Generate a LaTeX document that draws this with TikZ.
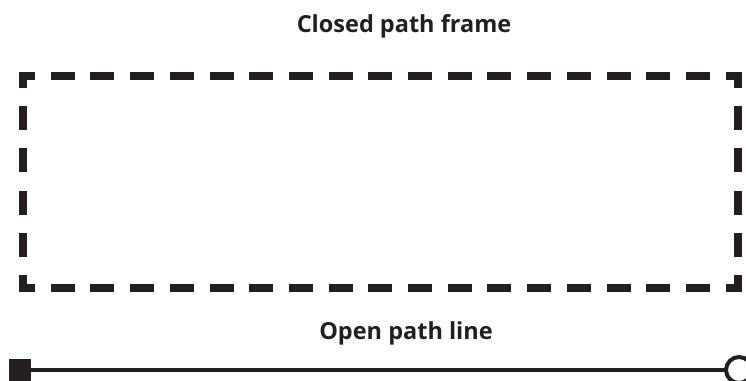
\documentclass[tikz,border=0pt]{standalone}
\usepackage{fontspec}
\setmainfont{Open Sans}
\definecolor{ink}{HTML}{231F20}
\tikzset{
  side/.style={line width=8pt, draw=ink, line cap=rect,
    dash pattern=on 16pt off #1, dash phase=8pt},
  title/.style={font=\fontsize{23.5}{27}\selectfont\bfseries, text=ink, inner sep=0pt, anchor=base},
  endsquare/.style={fill=ink, minimum size=22pt, inner sep=0pt, outer sep=0pt},
  endcircle/.style={draw=ink, fill=white, line width=4pt, circle, minimum size=26pt, inner sep=0pt, outer sep=0pt},
}
\begin{document}
\begin{tikzpicture}[x=1pt,y=-1pt]
  \useasboundingbox (0,0) rectangle (746,380);
  % frame corners
  \coordinate (tl) at (23,76);
  \coordinate (tr) at (737.5,76);
  \coordinate (br) at (737.5,288);
  \coordinate (bl) at (23,288);
  % each side dashed separately so every corner gets a full L
  \draw[side=23.7pt] (tl) -- (tr);
  \draw[side=23.7pt] (bl) -- (br);
  \draw[side=26.2pt] (tl) -- (bl);
  \draw[side=26.2pt] (tr) -- (br);
  \node[title] (t1) at (404,32) {Closed path frame};
  \node[title] (t2) at (406,339) {Open path line};
  % open path with its two end markers
  \node[endsquare] (s) at (20,370) {};
  \node[endcircle] (c) at (739,370) {};
  \draw[ink, line width=4.5pt] (s) -- (c);
\end{tikzpicture}
\end{document}
